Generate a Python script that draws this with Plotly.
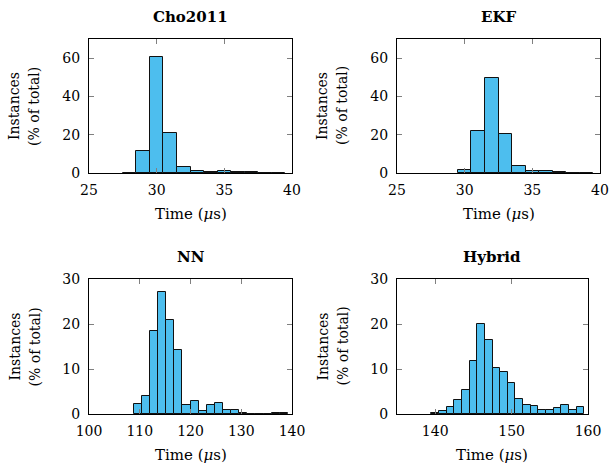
import plotly.graph_objects as go

# ---------------- data ----------------
cho_centers = [28, 29, 30, 31, 32, 33, 34, 35, 36, 37, 38, 39]
cho_values = [0.2, 11.3, 60.5, 20.7, 3.1, 1.0, 0.7, 0.8, 0.5, 0.3, 0.2, 0.2]

ekf_centers = [30, 31, 32, 33, 34, 35, 36, 37, 38, 39]
ekf_values = [1.6, 21.9, 49.6, 20.3, 3.8, 0.9, 0.8, 0.3, 0.2, 0.2]

nn_centers = [109.6, 111.2, 112.8, 114.4, 116.0, 117.6, 119.2, 120.8, 122.4, 124.0,
              125.6, 127.2, 128.8, 130.4, 132.0, 133.6, 135.2, 136.8, 138.4]
nn_values = [2.2, 4.1, 18.4, 27.2, 21.0, 14.3, 1.9, 2.8, 0.7, 1.9,
             2.4, 0.8, 1.0, 0.15, 0.1, 0.05, 0.0, 0.15, 0.15]

hyb_centers = [140, 141, 142, 143, 144, 145, 146, 147, 148, 149,
               150, 151, 152, 153, 154, 155, 156, 157, 158, 159]
hyb_values = [0.15, 0.6, 1.56, 3.05, 5.3, 11.8, 20.0, 16.35, 10.26, 9.3,
              7.0, 3.27, 2.0, 1.86, 0.8, 0.8, 1.26, 2.0, 0.9, 1.6]

titles = ["Cho2011", "EKF", "NN", "Hybrid"]
top_xticks = [25, 30, 35, 40]
nn_xticks = [100, 110, 120, 130, 140]
hyb_xticks = [140, 150, 160]
top_yticks = [0, 20, 40, 60]
bot_yticks = [0, 10, 20, 30]

# ---------------- style ----------------
BAR = "#4DBEEE"
FONT = "DejaVu Serif"
W, H = 610, 468

def px_x(a, b):
    return [a / W, b / W]

def px_y(top, bottom):
    return [1 - bottom / H, 1 - top / H]

panels = [
    dict(x=cho_centers, y=cho_values, width=1.0, xd=px_x(89, 292), yd=px_y(39, 173),
         xr=[25, 40], yr=[0, 70], xt=top_xticks, yt=top_yticks),
    dict(x=ekf_centers, y=ekf_values, width=1.0, xd=px_x(397, 600), yd=px_y(39, 173),
         xr=[25, 40], yr=[0, 70], xt=top_xticks, yt=top_yticks),
    dict(x=nn_centers, y=nn_values, width=1.6, xd=px_x(89, 292), yd=px_y(279, 414),
         xr=[100, 140], yr=[0, 30], xt=nn_xticks, yt=bot_yticks),
    dict(x=hyb_centers, y=hyb_values, width=1.0, xd=px_x(397, 588), yd=px_y(279, 414),
         xr=[135, 160], yr=[0, 30], xt=hyb_xticks, yt=bot_yticks),
]

fig = go.Figure()
annotations = []
layout = {}
for i, p in enumerate(panels):
    n = "" if i == 0 else str(i + 1)
    fig.add_trace(go.Bar(
        x=p["x"], y=p["y"], width=p["width"],
        marker=dict(color=BAR, line=dict(color="#111111", width=1)),
        xaxis="x" + n, yaxis="y" + n, showlegend=False,
    ))
    axcommon = dict(showline=True, linecolor="black", linewidth=1, mirror="ticks",
                    ticks="inside", ticklen=5, tickwidth=1, tickcolor="#808080",
                    showgrid=False, zeroline=False, automargin=False,
                    tickfont=dict(family=FONT, size=14, color="black"))
    layout["xaxis" + n] = dict(axcommon, domain=p["xd"], range=p["xr"],
                               tickvals=p["xt"], anchor="y" + n,
                               ticklabelstandoff=4)
    layout["yaxis" + n] = dict(axcommon, domain=p["yd"], range=p["yr"],
                               tickvals=p["yt"], anchor="x" + n,
                               ticklabelstandoff=5)
    xc = (p["xd"][0] + p["xd"][1]) / 2
    yc = (p["yd"][0] + p["yd"][1]) / 2
    annotations.append(dict(text="<b>%s</b>" % titles[i], x=xc, y=p["yd"][1] + 22 / H,
                            xref="paper", yref="paper", showarrow=False,
                            xanchor="center", yanchor="middle",
                            font=dict(family=FONT, size=15, color="black")))
    annotations.append(dict(text="Time (<i>μ</i>s)", x=xc, y=p["yd"][0] - 41 / H,
                            xref="paper", yref="paper", showarrow=False,
                            xanchor="center", yanchor="middle",
                            font=dict(family=FONT, size=15, color="black")))
    lx = p["xd"][0] - 75 / W
    annotations.append(dict(text="Instances", x=lx, y=yc, xref="paper", yref="paper",
                            showarrow=False, textangle=-90, xanchor="center",
                            yanchor="middle",
                            font=dict(family=FONT, size=14, color="black")))
    annotations.append(dict(text="(% of total)", x=lx + 20 / W, y=yc, xref="paper",
                            yref="paper", showarrow=False, textangle=-90,
                            xanchor="center", yanchor="middle",
                            font=dict(family=FONT, size=14, color="black")))

fig.update_layout(
    width=W, height=H, margin=dict(l=0, r=0, t=0, b=0),
    paper_bgcolor="white", plot_bgcolor="white",
    bargap=0, annotations=annotations, **layout,
)
fig.write_html("out.html")
